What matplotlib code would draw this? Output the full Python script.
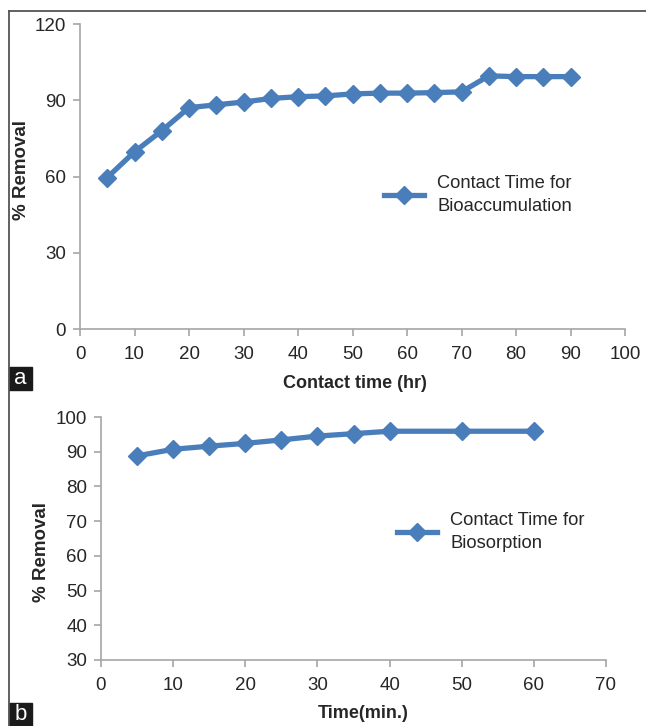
import matplotlib
matplotlib.use('Agg')
import matplotlib.pyplot as plt
from matplotlib.lines import Line2D
from matplotlib.patches import Rectangle

plt.rcParams['font.family'] = ['Liberation Sans', 'DejaVu Sans']

# panel a: bioaccumulation
time_hr = [5, 10, 15, 20, 25, 30, 35, 40, 45, 50, 55, 60, 65, 70, 75, 80, 85, 90]
removal_a = [59.6, 69.7, 78.0, 87.1, 88.2, 89.3, 90.7, 91.4, 91.7, 92.5, 92.8, 92.8, 93.0, 93.3,
             99.6, 99.3, 99.3, 99.3]

# panel b: biosorption
time_min = [5, 10, 15, 20, 25, 30, 35, 40, 50, 60]
removal_b = [88.8, 90.7, 91.6, 92.4, 93.4, 94.5, 95.2, 95.9, 95.9, 95.9]

W, H = 646, 726
BLUE = '#4a7ebb'
GREY = '#a6a6a6'
TXT = '#262626'

fig = plt.figure(figsize=(W / 100, H / 100), dpi=100)


def px_axes(x0, y0, x1, y1):
    # pixel box (top-left origin) -> figure fraction
    return fig.add_axes([x0 / W, 1 - y1 / H, (x1 - x0) / W, (y1 - y0) / H])


def style(ax):
    for s in ['top', 'right']:
        ax.spines[s].set_visible(False)
    for s in ['left', 'bottom']:
        ax.spines[s].set_color(GREY)
        ax.spines[s].set_linewidth(1.2)
    ax.tick_params(direction='out', length=5, width=1.2, color=GREY,
                   labelsize=13.5, labelcolor=TXT)
    ax.tick_params(axis='x', pad=7)
    ax.tick_params(axis='y', pad=5)
    ax.patch.set_alpha(0)


def draw_panel(ax, x, y, label):
    ax.plot(x, y, color=BLUE, lw=3.8, marker='D', ms=9, mec=BLUE, mfc=BLUE,
            solid_joinstyle='round', clip_on=False, label=label)


def add_legend(ax, anchor):
    leg = ax.legend(loc='center left', bbox_to_anchor=anchor, frameon=False,
                    fontsize=13.2, handlelength=2.2, handletextpad=0.7,
                    borderpad=0, borderaxespad=0)
    for t in leg.get_texts():
        t.set_color(TXT)
        t.set_linespacing(1.45)
    return leg


# ---- a ----
ax1 = px_axes(80, 24, 625, 329)
style(ax1)
draw_panel(ax1, time_hr, removal_a, 'Contact Time for\nBioaccumulation')
ax1.set_xlim(0, 100)
ax1.set_ylim(0, 120)
ax1.set_xticks(range(0, 101, 10))
ax1.set_yticks(range(0, 121, 30))
ax1.set_ylabel('% Removal', fontsize=13.5, fontweight='bold', color=TXT)
ax1.yaxis.set_label_coords((22 - 80) / 545, (329 - 170) / 305)
ax1.set_xlabel('Contact time (hr)', fontsize=13, fontweight='bold', color=TXT)
ax1.xaxis.set_label_coords((355 - 80) / 545, -(383 - 329) / 305)
ax1.xaxis.label.set_va('center')
ax1.yaxis.label.set_va('center')
add_legend(ax1, ((384 - 80) / 545, (329 - 195) / 305))

# ---- b ----
ax2 = px_axes(101, 417, 606, 660)
style(ax2)
draw_panel(ax2, time_min, removal_b, 'Contact Time for\nBiosorption')
ax2.set_xlim(0, 70)
ax2.set_ylim(30, 100)
ax2.set_xticks(range(0, 71, 10))
ax2.set_yticks(range(30, 101, 10))
ax2.set_ylabel('% Removal', fontsize=13.5, fontweight='bold', color=TXT)
ax2.yaxis.set_label_coords((41 - 101) / 505, (660 - 552) / 243)
ax2.set_xlabel('Time(min.)', fontsize=13, fontweight='bold', color=TXT)
ax2.xaxis.set_label_coords((363 - 101) / 505, -(714 - 660) / 243)
ax2.xaxis.label.set_va('center')
ax2.yaxis.label.set_va('center')
add_legend(ax2, ((397 - 101) / 505, (660 - 532) / 243))

# frame lines and panel tags
fig.add_artist(Line2D([8.5 / W, 8.5 / W], [0, 1 - 11 / H], transform=fig.transFigure,
                      color='#555555', lw=1.3))
fig.add_artist(Line2D([8.5 / W, 1], [1 - 11 / H, 1 - 11 / H], transform=fig.transFigure,
                      color='#555555', lw=1.3))
for tag, y0, y1 in [('a', 367, 390), ('b', 703, 726)]:
    fig.add_artist(Rectangle((9 / W, 1 - y1 / H), 23 / W, (y1 - y0) / H,
                             transform=fig.transFigure, color='#1a1a1a'))
    fig.text(20.5 / W, 1 - (y0 + y1) / 2 / H, tag, color='white', fontsize=16,
             ha='center', va='center')

fig.savefig('out.png', dpi=100)
